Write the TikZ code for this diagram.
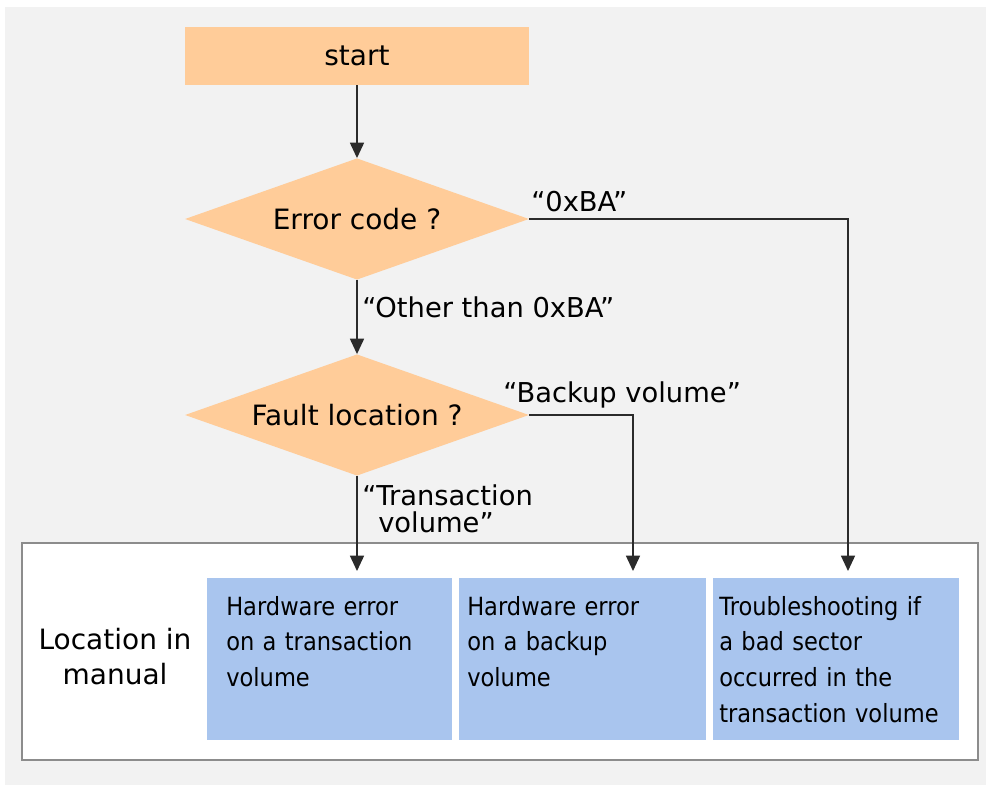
\documentclass[tikz,border=0pt]{standalone}
\usepackage{fontspec}
\setmainfont{DejaVu Sans}
\newfontfamily\boxfont[FakeStretch=0.9]{DejaVu Sans}
\usetikzlibrary{shapes.geometric,arrows.meta}
\definecolor{bgGray}{HTML}{F2F2F2}
\definecolor{peach}{HTML}{FFCC99}
\definecolor{paleBlue}{HTML}{A9C5EE}
\definecolor{frameGray}{HTML}{8C8C8C}
\definecolor{lineCol}{HTML}{2B2B2B}
\begin{document}
\begin{tikzpicture}[x=0.75pt,y=-0.75pt,
  lbl/.style={font=\fontsize{20.5}{24}\selectfont,inner sep=0pt},
  startbox/.style={rectangle,fill=peach,minimum width=258pt,minimum height=43.5pt,inner sep=0pt,font=\fontsize{21}{24}\selectfont},
  decision/.style={diamond,fill=peach,minimum width=258pt,minimum height=91pt,inner sep=0pt,aspect=2.8,font=\fontsize{21}{24}\selectfont},
  framebox/.style={rectangle,draw=frameGray,line width=1pt,fill=white,minimum width=717pt,minimum height=162.75pt,inner sep=0pt},
  bluebox/.style={rectangle,fill=paleBlue,minimum height=121.5pt,inner sep=0pt},
  boxtext/.style={anchor=base west,inner sep=0pt,text width=180pt,align=left,font=\boxfont\fontsize{18.8}{26.8}\selectfont},
  arr/.style={draw=lineCol,line width=1.1pt,-{Triangle[width=10.5pt,length=11.5pt]}}
]
\useasboundingbox (0,0) rectangle (988,787);
\fill[bgGray] (5,7) rectangle (986,785);

% top flow
\node[startbox] (start) at (357,56) {start};
\node[decision] (d1) at (357,219) {Error code ?};
\node[decision] (d2) at (357,415) {Fault location ?};

% bottom frame and boxes
\node[framebox] (frame) at (500,651.5) {};
\node[bluebox,minimum width=183.75pt] (b1) at (329.5,659) {};
\node[bluebox,minimum width=185.25pt] (b2) at (582.5,659) {};
\node[bluebox,minimum width=184.5pt] (b3) at (836,659) {};

\node[boxtext] (t1) at (226,615) {Hardware error\\on a transaction\\volume};
\node[boxtext] (t2) at (467,615) {Hardware error\\on a backup\\volume};
\node[boxtext] (t3) at (719,615) {Troubleshooting if\\a bad sector\\occurred in the\\transaction volume};

\node[lbl,align=center,font=\fontsize{21}{26.3}\selectfont] (loc) at (115,657) {Location in\\manual};

% arrow end points
\coordinate (a1) at (357,571);
\coordinate (a2) at (633,571);
\coordinate (a3) at (848,571);

% connectors
\draw[arr] (start) -- (d1);
\draw[arr] (d1) -- (d2);
\draw[arr] (d2.south) -- (a1);
\draw[arr] (d1.east) -| (a3);
\draw[arr] (d2.east) -| (a2);

% branch labels
\node[lbl,anchor=base west] (l0) at (531,212) {“0xBA”};
\node[lbl,anchor=base west] (l1) at (362,318) {“Other than 0xBA”};
\node[lbl,anchor=base west] (l2) at (503,403) {“Backup volume”};
\node[lbl,anchor=base west,text width=180pt,align=left,font=\fontsize{20.5}{20.3}\selectfont] (l3) at (362,505) {“Transaction\\\hspace*{12pt}volume”};
\end{tikzpicture}
\end{document}
